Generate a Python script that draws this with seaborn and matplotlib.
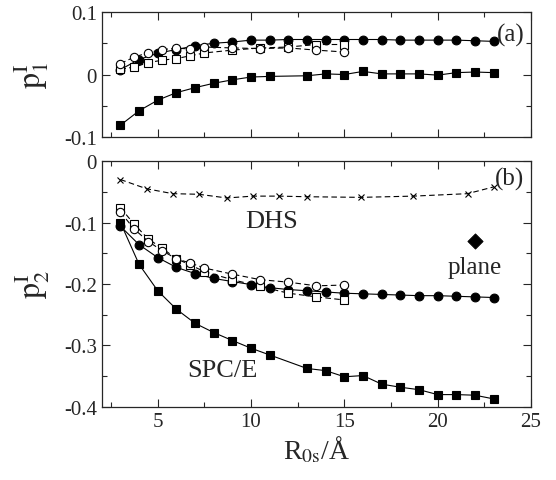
import numpy as np
import pandas as pd
import seaborn as sns
import matplotlib
matplotlib.use('Agg')
import matplotlib.pyplot as plt
from matplotlib.ticker import MultipleLocator, FuncFormatter

# ---- data ----
x_full = [3, 4, 5, 6, 7, 8, 9, 10, 11, 12, 13, 14, 15, 16, 17, 18, 19, 20, 21, 22, 23]
x_sq = [3, 4, 5, 6, 7, 8, 9, 10, 11, 13, 14, 15, 16, 17, 18, 19, 20, 21, 22, 23]
x_open = [3, 3.75, 4.5, 5.25, 6, 6.75, 7.5, 9, 10.5, 12, 13.5, 15]
x_dhs = [3, 4.4, 5.8, 7.2, 8.7, 10.1, 11.5, 13, 15.9, 18.7, 21.6, 23]

# panel (a): p1
p1_circ = [0.008, 0.024, 0.034, 0.040, 0.046, 0.050, 0.052, 0.055, 0.055, 0.056, 0.056,
           0.056, 0.056, 0.056, 0.056, 0.055, 0.055, 0.055, 0.055, 0.054, 0.053]
p1_sq = [-0.081, -0.058, -0.041, -0.029, -0.021, -0.014, -0.0085, -0.004, -0.003, -0.002,
         0.001, 0.0, 0.005, 0.001, 0.001, 0.001, -0.001, 0.003, 0.004, 0.003]
p1_ocirc = [0.0175, 0.028, 0.035, 0.040, 0.042, 0.041, 0.044, 0.0425, 0.0415, 0.0425, 0.039, 0.036]
p1_osq = [0.0085, 0.012, 0.019, 0.023, 0.0255, 0.030, 0.0345, 0.039, 0.0425, 0.044, 0.048, 0.048]

# panel (b): p2
p2_circ = [-0.106, -0.136, -0.157, -0.173, -0.183, -0.191, -0.196, -0.201, -0.206, -0.209, -0.211,
           -0.213, -0.215, -0.216, -0.217, -0.218, -0.219, -0.219, -0.220, -0.221, -0.222]
p2_sq = [-0.100, -0.168, -0.211, -0.241, -0.264, -0.279, -0.292, -0.3045, -0.3155, -0.3375,
         -0.341, -0.351, -0.349, -0.363, -0.368, -0.372, -0.380, -0.380, -0.381, -0.387]
p2_ocirc = [-0.083, -0.111, -0.131, -0.146, -0.159, -0.166, -0.174, -0.184, -0.193, -0.197, -0.203, -0.2017]
p2_osq = [-0.076, -0.103, -0.127, -0.142, -0.159, -0.169, -0.180, -0.193, -0.204, -0.215, -0.221, -0.226]
p2_dhs = [-0.030, -0.045, -0.053, -0.054, -0.060, -0.057, -0.057, -0.058, -0.059, -0.057, -0.053, -0.042]
plane_x = [22]
plane_y = [-0.13]

sns.set_style('ticks')
plt.rcParams['font.family'] = ['Liberation Serif', 'DejaVu Serif']
plt.rcParams['mathtext.fontset'] = 'stix'
plt.rcParams['axes.unicode_minus'] = False
plt.rcParams['xtick.direction'] = 'in'
plt.rcParams['ytick.direction'] = 'in'
plt.rcParams['lines.dashed_pattern'] = [5, 3]

fig = plt.figure(figsize=(5.56, 4.81), dpi=100)
ax1 = fig.add_axes([0.183, 0.713, 0.772, 0.26])
ax2 = fig.add_axes([0.183, 0.152, 0.772, 0.511])


def draw(ax, x, y, marker, filled, ls, ms):
    sns.lineplot(x=x, y=y, ax=ax, color='black', marker=marker, linestyle=ls,
                 linewidth=0.8, markersize=ms,
                 markerfacecolor='black' if filled else 'white',
                 markeredgecolor='black', markeredgewidth=0.8, sort=False)


draw(ax1, x_full, p1_circ, 'o', True, '-', 6.3)
draw(ax1, x_sq, p1_sq, 's', True, '-', 5.8)
draw(ax1, x_open, p1_osq, 's', False, '--', 5.5)
draw(ax1, x_open, p1_ocirc, 'o', False, '--', 6)

draw(ax2, x_dhs, p2_dhs, 'x', True, '--', 5)
draw(ax2, x_full, p2_circ, 'o', True, '-', 6.3)
draw(ax2, x_sq, p2_sq, 's', True, '-', 5.8)
draw(ax2, x_open, p2_osq, 's', False, '--', 5.5)
draw(ax2, x_open, p2_ocirc, 'o', False, '--', 6)
sns.scatterplot(x=plane_x, y=plane_y, ax=ax2, marker='D', color='black', s=60, edgecolor='black')

fmt = FuncFormatter(lambda v, p: '%g' % round(v, 3))
for ax in (ax1, ax2):
    ax.set_xlim(2, 25)
    ax.xaxis.set_major_locator(MultipleLocator(5))
    ax.xaxis.set_minor_locator(MultipleLocator(2.5))
    ax.tick_params(which='both', top=True, right=True, labelsize=15, width=0.8)
    ax.tick_params(which='major', length=6)
    ax.tick_params(which='minor', length=3.5)
    ax.yaxis.set_major_formatter(fmt)
    for s in ax.spines.values():
        s.set_linewidth(0.9)

ax1.set_ylim(-0.1, 0.1)
ax1.yaxis.set_major_locator(MultipleLocator(0.1))
ax1.yaxis.set_minor_locator(MultipleLocator(0.05))
ax1.tick_params(labelbottom=False)
ax1.set_ylabel(r'$\mathrm{p}_1^\mathrm{I}$', fontsize=23)
ax1.yaxis.set_label_coords(-0.118, 0.5)

ax2.set_ylim(-0.4, 0)
ax2.yaxis.set_major_locator(MultipleLocator(0.1))
ax2.yaxis.set_minor_locator(MultipleLocator(0.05))
ax2.set_ylabel(r'$\mathrm{p}_2^\mathrm{I}$', fontsize=23)
ax2.yaxis.set_label_coords(-0.118, 0.5)
ax2.set_xlabel(r'R$_{0\mathrm{s}}$/Å', fontsize=20, labelpad=2)

ax1.text(0.985, 0.82, '(a)', transform=ax1.transAxes, ha='right', va='center', fontsize=18)
ax2.text(0.985, 0.93, '(b)', transform=ax2.transAxes, ha='right', va='center', fontsize=18)
ax2.text(11.1, -0.098, 'DHS', ha='center', va='center', fontsize=19)
ax2.text(22, -0.172, 'plane', ha='center', va='center', fontsize=18)
ax2.text(8.45, -0.34, 'SPC/E', ha='center', va='center', fontsize=19)

fig.savefig('out.png', dpi=100)
